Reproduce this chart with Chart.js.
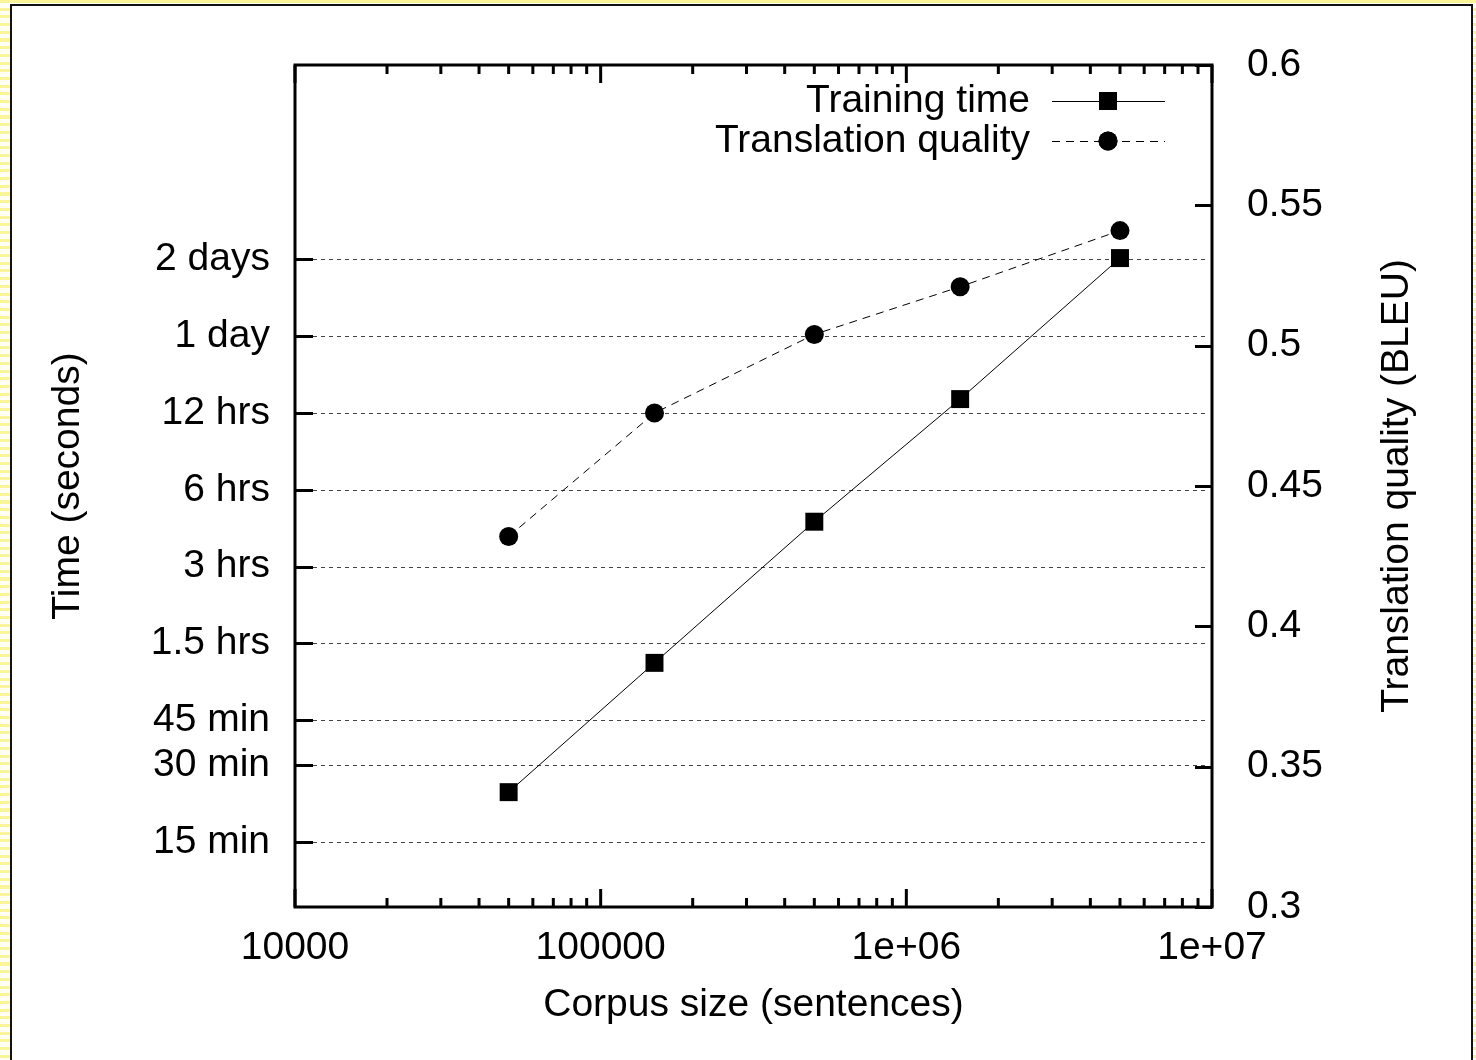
<!DOCTYPE html>
<html>
<head>
<meta charset="utf-8">
<script src="https://cdn.jsdelivr.net/npm/chart.js@4/dist/chart.umd.min.js"></script>
<style>
    html, body { margin: 0; padding: 0; }
    body {
        width: 1476px; height: 1060px; overflow: hidden; position: relative;
        background: repeating-linear-gradient(to bottom, #fbf59a 0 3px, #fffff4 3px 7.7px);
    }
    #frame {
        position: absolute; left: 10px; top: 4px; width: 1463px; height: 1070px;
        box-sizing: border-box; border: 2px solid #111; background: #fff;
    }
    #wrap { position: absolute; left: 0; top: 0; width: 1476px; height: 1060px; }
</style>
</head>
<body>
<div id="frame"></div>
<div id="wrap"><canvas id="myChart"></canvas></div>
<script>
/*
    Training time and translation quality vs. corpus size (gnuplot look)
*/

const corpusSizes = [50000, 150000, 500000, 1500000, 5000000];   // x values (sentences)
const trainingSeconds = [1410, 4530, 16200, 49000, 175000];      // left axis, seconds
const bleuScores = [0.432, 0.476, 0.504, 0.521, 0.541];          // right axis, BLEU

const xTickValues = [10000, 100000, 1000000, 10000000];
const xTickLabels = ['10000', '100000', '1e+06', '1e+07'];

const timeTickValues = [900, 1800, 2700, 5400, 10800, 21600, 43200, 86400, 172800];
const timeTickLabels = ['15 min', '30 min', '45 min', '1.5 hrs', '3 hrs', '6 hrs', '12 hrs', '1 day', '2 days'];

const bleuTickValues = [0.3, 0.35, 0.4, 0.45, 0.5, 0.55, 0.6];
const bleuTickLabels = ['0.3', '0.35', '0.4', '0.45', '0.5', '0.55', '0.6'];

const FONT = "'Liberation Sans', Arial, sans-serif";
const FSIZE = 39;

// border, inward ticks, dotted grid, legend and right axis title
const gnuplotFrame = {
    id: 'gnuplotFrame',
    beforeDatasetsDraw(chart) {
        const {ctx, chartArea: a, scales} = chart;
        ctx.save();
        ctx.strokeStyle = '#444';
        ctx.lineWidth = 1;
        ctx.setLineDash([4, 4]);
        timeTickValues.forEach(v => {
            const y = Math.round(scales.y.getPixelForValue(v)) + 0.5;
            ctx.beginPath();
            ctx.moveTo(a.left + 18, y);
            ctx.lineTo(a.right - 7, y);
            ctx.stroke();
        });
        ctx.restore();
    },
    afterDatasetsDraw(chart) {
        const {ctx, chartArea: a, scales} = chart;
        ctx.save();
        ctx.strokeStyle = '#000';
        ctx.setLineDash([]);
        ctx.lineWidth = 3;

        // x ticks, bottom and top, major + minor
        const tick = (x, len) => {
            ctx.beginPath();
            ctx.moveTo(x, a.bottom); ctx.lineTo(x, a.bottom - len);
            ctx.moveTo(x, a.top); ctx.lineTo(x, a.top + len);
            ctx.stroke();
        };
        xTickValues.forEach((v, i) => {
            tick(scales.x.getPixelForValue(v), 18);
            if (i < xTickValues.length - 1) {
                for (let k = 2; k <= 9; k++) tick(scales.x.getPixelForValue(v * k), 9);
            }
        });
        // left ticks
        timeTickValues.forEach(v => {
            const y = Math.round(scales.y.getPixelForValue(v)) + 0.5;
            ctx.beginPath(); ctx.moveTo(a.left, y); ctx.lineTo(a.left + 18, y); ctx.stroke();
        });
        // right ticks
        bleuTickValues.forEach(v => {
            const y = Math.round(scales.y2.getPixelForValue(v)) + 0.5;
            ctx.beginPath(); ctx.moveTo(a.right, y); ctx.lineTo(a.right - 17, y); ctx.stroke();
        });
        // border
        ctx.strokeRect(a.left, a.top, a.right - a.left, a.bottom - a.top);
        ctx.restore();
    },
    afterDraw(chart) {
        const {ctx, chartArea: a} = chart;
        ctx.save();
        ctx.fillStyle = '#000';
        ctx.font = FSIZE + 'px ' + FONT;
        ctx.textBaseline = 'middle';

        // legend, text right-aligned then sample
        chart.data.datasets.forEach((ds, i) => {
            const y = a.top + 36 + i * 40;
            ctx.textAlign = 'right';
            ctx.fillText(ds.label, a.right - 182, y);
            ctx.strokeStyle = '#000';
            ctx.lineWidth = 1;
            ctx.setLineDash(ds.borderDash || []);
            ctx.beginPath();
            ctx.moveTo(a.right - 160, y + 0.5);
            ctx.lineTo(a.right - 47, y + 0.5);
            ctx.stroke();
            ctx.setLineDash([]);
            Chart.helpers.drawPoint(ctx, {
                pointStyle: ds.pointStyle, radius: ds.pointRadius, borderWidth: 0
            }, a.right - 104, y);
            ctx.fill();
        });

        // right axis title, reading bottom to top
        ctx.translate(1397, (a.top + a.bottom) / 2);
        ctx.rotate(-Math.PI / 2);
        ctx.textAlign = 'center';
        ctx.fillText('Translation quality (BLEU)', 0, 0);
        ctx.restore();
    }
};

// fixed axis boxes so the plot frame lands where the original has it
function fixBox(size, vertical) {
    return s => {
        if (vertical) s.width = size; else s.height = size;
        s.paddingTop = 0;
        s.paddingBottom = 0;
        s.paddingLeft = 0;
        s.paddingRight = 0;
    };
}

function createChart() {
    const ctx = document.getElementById('myChart');
    new Chart(ctx, {
        type: 'line',
        data: {
            datasets: [
                {
                    label: 'Training time',
                    data: corpusSizes.map((x, i) => ({x: x, y: trainingSeconds[i]})),
                    yAxisID: 'y',
                    borderColor: '#000',
                    backgroundColor: '#000',
                    borderWidth: 1,
                    pointStyle: 'rect',
                    pointRadius: 12.7,
                    pointBorderWidth: 0,
                    tension: 0
                },
                {
                    label: 'Translation quality',
                    data: corpusSizes.map((x, i) => ({x: x, y: bleuScores[i]})),
                    yAxisID: 'y2',
                    borderColor: '#000',
                    backgroundColor: '#000',
                    borderWidth: 1,
                    borderDash: [8, 6],
                    pointStyle: 'circle',
                    pointRadius: 9.5,
                    pointBorderWidth: 0,
                    tension: 0
                }
            ]
        },
        options: {
            responsive: true,
            maintainAspectRatio: false,
            animation: false,
            layout: { padding: { top: 65, left: 0, right: 0, bottom: 0 } },
            plugins: {
                legend: { display: false },
                tooltip: { enabled: false }
            },
            scales: {
                x: {
                    type: 'logarithmic',
                    position: 'bottom',
                    min: 10000,
                    max: 10000000,
                    afterBuildTicks: s => { s.ticks = xTickValues.map(v => ({value: v})); },
                    afterFit: fixBox(153, false),
                    grid: { display: false },
                    border: { display: false },
                    ticks: {
                        callback: (v, i) => xTickLabels[i],
                        autoSkip: false,
                        maxRotation: 0,
                        padding: 10,
                        color: '#000',
                        font: { family: FONT, size: FSIZE }
                    },
                    title: {
                        display: true,
                        text: 'Corpus size (sentences)',
                        color: '#000',
                        font: { family: FONT, size: FSIZE },
                        padding: { top: 0, bottom: 31 }
                    }
                },
                y: {
                    type: 'logarithmic',
                    position: 'left',
                    min: 500,
                    max: 1000000,
                    afterBuildTicks: s => { s.ticks = timeTickValues.map(v => ({value: v})); },
                    afterFit: fixBox(295, true),
                    grid: { display: false },
                    border: { display: false },
                    ticks: {
                        callback: (v, i) => timeTickLabels[i],
                        autoSkip: false,
                        padding: 17,
                        color: '#000',
                        font: { family: FONT, size: FSIZE }
                    },
                    title: {
                        display: true,
                        text: 'Time (seconds)',
                        color: '#000',
                        font: { family: FONT, size: FSIZE },
                        padding: { top: 45, bottom: 0 }
                    }
                },
                y2: {
                    type: 'linear',
                    position: 'right',
                    min: 0.3,
                    max: 0.6,
                    afterBuildTicks: s => { s.ticks = bleuTickValues.map(v => ({value: v})); },
                    afterFit: fixBox(264, true),
                    grid: { display: false },
                    border: { display: false },
                    ticks: {
                        callback: (v, i) => bleuTickLabels[i],
                        autoSkip: false,
                        padding: 27,
                        color: '#000',
                        font: { family: FONT, size: FSIZE }
                    }
                }
            }
        },
        plugins: [gnuplotFrame]
    });
}

createChart();
</script>
</body>
</html>
